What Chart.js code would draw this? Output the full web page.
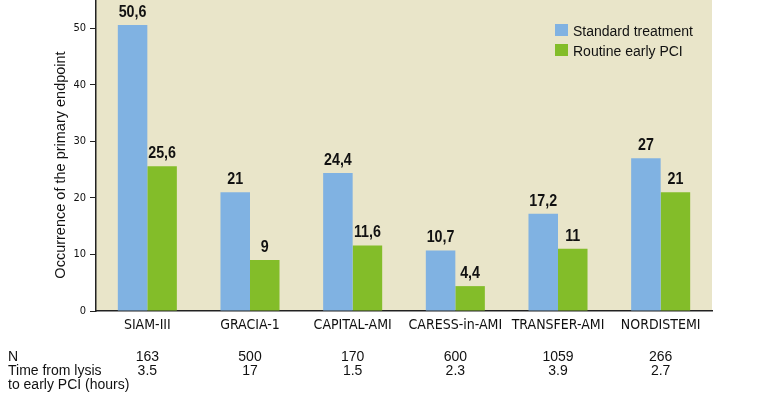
<!DOCTYPE html>
<html>
<head>
<meta charset="utf-8">
<script src="https://cdn.jsdelivr.net/npm/chart.js@4/dist/chart.umd.min.js"></script>
<style>
  html, body { margin: 0; padding: 0; background: #ffffff; }
  #wrap { width: 762px; height: 396px; }
</style>
</head>
<body>
<div id="wrap"><canvas id="c" width="762" height="396"></canvas></div>
<script>
const categories = ['SIAM-III', 'GRACIA-1', 'CAPITAL-AMI', 'CARESS-in-AMI', 'TRANSFER-AMI', 'NORDISTEMI'];
const standardTreatment = [50.6, 21, 24.4, 10.7, 17.2, 27];
const routineEarlyPCI = [25.6, 9, 11.6, 4.4, 11, 21];
const patientsN = ['163', '500', '170', '600', '1059', '266'];
const timeToPCI = ['3.5', '17', '1.5', '2.3', '3.9', '2.7'];
const seriesNames = ['Standard treatment', 'Routine early PCI'];
const yTitle = 'Occurrence of the primary endpoint';
const rowLabels = ['N', 'Time from lysis', 'to early PCI (hours)'];

const BLUE = '#80b2e2';
const GREEN = '#83bd29';
const BEIGE = '#e9e5c9';
const NARROW = '"Liberation Sans Narrow", "DejaVu Sans Condensed", sans-serif';
const SANS = '"Liberation Sans", Arial, sans-serif';

const decorPlugin = {
  id: 'decor',
  beforeDraw(chart) {
    const { ctx, chartArea: a } = chart;
    ctx.save();
    ctx.fillStyle = BEIGE;
    ctx.fillRect(a.left, a.top, a.right - a.left, a.bottom - a.top);
    ctx.restore();
  },
  afterDatasetsDraw(chart) {
    const { ctx } = chart;
    const sx = 0.84;
    chart.data.datasets.forEach((ds, di) => {
      const meta = chart.getDatasetMeta(di);
      meta.data.forEach((el, i) => {
        const txt = String(ds.data[i]).replace('.', ',');
        ctx.save();
        ctx.fillStyle = '#111';
        ctx.font = 'bold 17px ' + SANS;
        ctx.textAlign = 'center';
        ctx.textBaseline = 'alphabetic';
        ctx.translate(el.x, el.y - 8);
        ctx.scale(sx, 1);
        ctx.fillText(txt, 0, 0);
        ctx.restore();
      });
    });
  },
  afterDraw(chart) {
    const { ctx } = chart;
    const xs = chart.scales.x;
    ctx.save();
    // y axis title
    ctx.fillStyle = '#111';
    ctx.font = '14.5px ' + SANS;
    ctx.textAlign = 'center';
    ctx.textBaseline = 'middle';
    ctx.translate(61, 165);
    ctx.rotate(-Math.PI / 2);
    ctx.fillText(yTitle, 0, 0);
    ctx.restore();

    // legend
    ctx.save();
    ctx.font = '14px ' + SANS;
    ctx.textBaseline = 'alphabetic';
    ctx.textAlign = 'left';
    const legendColors = [BLUE, GREEN];
    const baselines = [36, 56];
    seriesNames.forEach((name, i) => {
      ctx.fillStyle = legendColors[i];
      ctx.fillRect(555, baselines[i] - 12, 13, 12);
      ctx.fillStyle = '#111';
      ctx.fillText(name, 573, baselines[i]);
    });
    ctx.restore();

    // table below
    ctx.save();
    ctx.font = '14px ' + SANS;
    ctx.fillStyle = '#111';
    ctx.textBaseline = 'alphabetic';
    ctx.textAlign = 'left';
    ctx.fillText(rowLabels[0], 8, 361);
    ctx.fillText(rowLabels[1], 8, 375);
    ctx.fillText(rowLabels[2], 8, 389);
    ctx.textAlign = 'center';
    categories.forEach((c, i) => {
      const px = xs.getPixelForValue(i);
      ctx.fillText(patientsN[i], px, 361);
      ctx.fillText(timeToPCI[i], px, 375);
    });
    ctx.restore();
  }
};

new Chart(document.getElementById('c'), {
  type: 'bar',
  data: {
    labels: categories,
    datasets: [
      { label: seriesNames[0], data: standardTreatment, backgroundColor: BLUE, borderWidth: 0 },
      { label: seriesNames[1], data: routineEarlyPCI, backgroundColor: GREEN, borderWidth: 0 }
    ]
  },
  options: {
    responsive: false,
    animation: false,
    devicePixelRatio: 1,
    layout: { padding: { left: 0, right: 50, top: 0, bottom: 0 } },
    plugins: { legend: { display: false }, tooltip: { enabled: false } },
    datasets: { bar: { categoryPercentage: 0.575, barPercentage: 1.0 } },
    scales: {
      x: {
        grid: { display: false, drawTicks: false },
        border: { display: true, color: '#222', width: 1.5 },
        ticks: {
          color: '#111',
          font: { family: NARROW, size: 14 },
          padding: 6,
          autoSkip: false,
          maxRotation: 0
        },
        afterFit(s) { s.height = 85; s.paddingLeft = 0; s.paddingRight = 0; }
      },
      y: {
        min: 0,
        max: 55,
        grid: { display: true, drawOnChartArea: false, drawTicks: true, tickLength: 6, color: '#222', lineWidth: 1 },
        border: { display: true, color: '#222', width: 1.5 },
        ticks: {
          stepSize: 10,
          color: '#111',
          font: { family: NARROW, size: 11 },
          padding: 4
        },
        afterBuildTicks(s) { s.ticks = s.ticks.filter(t => t.value % 10 === 0); },
        afterFit(s) { s.width = 96; s.paddingTop = 0; s.paddingBottom = 0; }
      }
    }
  },
  plugins: [decorPlugin]
});
</script>
</body>
</html>
